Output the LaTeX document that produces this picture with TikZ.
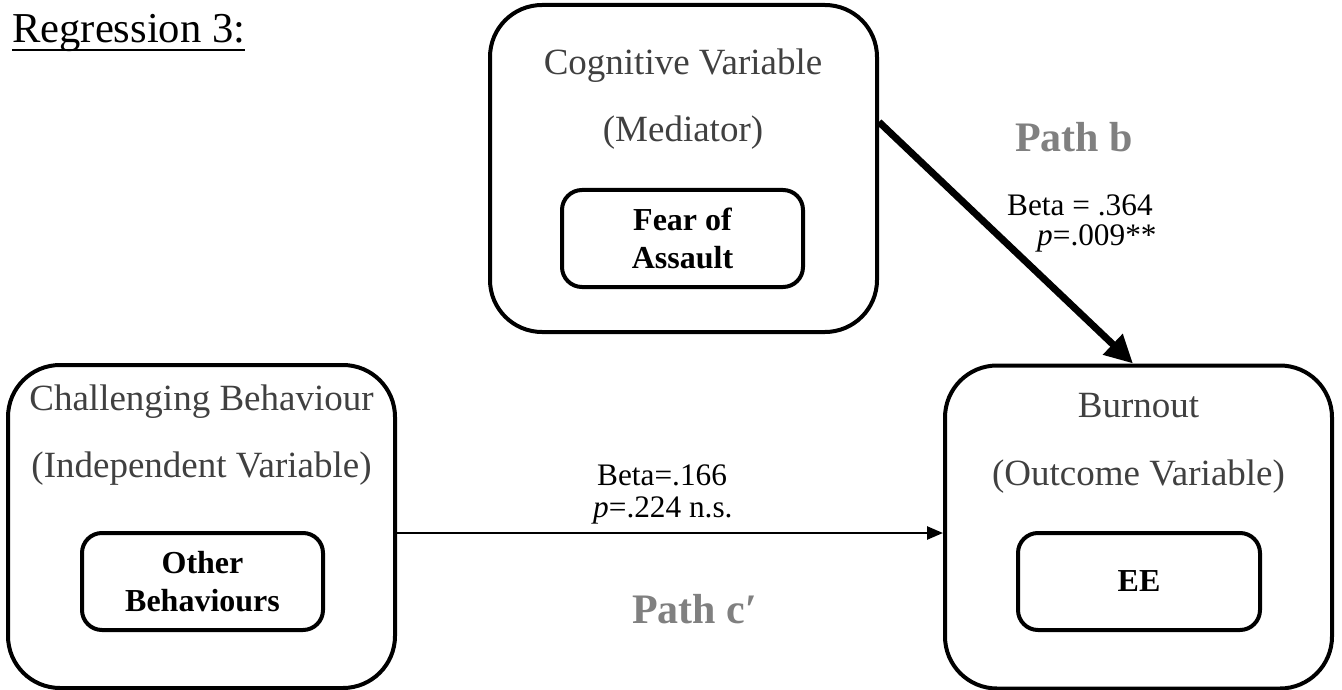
\documentclass[tikz,border=0pt]{standalone}
\usepackage{fontspec}
\setmainfont{Liberation Serif}
\usetikzlibrary{arrows.meta}
\definecolor{titlegray}{HTML}{404040}
\definecolor{pathgray}{HTML}{808080}
\begin{document}
\begin{tikzpicture}[x=1pt,y=-1pt,
  outerbox/.style={draw, line width=4pt, rounded corners=52pt, minimum width=387pt, minimum height=323pt, inner sep=0pt},
  innerbox/.style={draw, line width=4pt, rounded corners=20pt, minimum width=241pt, minimum height=97pt, inner sep=0pt, align=center, font=\fontsize{32pt}{38pt}\selectfont\bfseries},
  vartitle/.style={anchor=base, inner sep=0pt, text=titlegray, font=\fontsize{37pt}{44pt}\selectfont},
  stat/.style={anchor=base west, inner sep=0pt, font=\fontsize{31.3pt}{36pt}\selectfont},
  pathlbl/.style={anchor=base west, inner sep=0pt, text=pathgray, font=\fontsize{42pt}{48pt}\selectfont\bfseries}]
\useasboundingbox (0,0) rectangle (1342,690);

% heading
\node[anchor=base west, inner sep=0pt, font=\fontsize{42.6pt}{50pt}\selectfont] (reg) at (12,43) {Regression 3:};
\draw[line width=2.5pt] ([yshift=-7pt]reg.base west) -- ([yshift=-7pt]reg.base east);

% outer boxes
\node[outerbox, minimum height=327pt] (med) at (683.5,168.5) {};
\node[outerbox] (ind) at (201.5,526.5) {};
\node[outerbox] (outc) at (1138.5,527) {};

% titles
\node[vartitle] (medt1) at (683,75) {Cognitive Variable};
\node[vartitle] (medt2) at (683,142) {(Mediator)};
\node[vartitle] (indt1) at (201.5,410) {Challenging Behaviour};
\node[vartitle] (indt2) at (201.5,477) {(Independent Variable)};
\node[vartitle] (outt1) at (1138.5,417) {Burnout};
\node[vartitle] (outt2) at (1138.5,485) {(Outcome Variable)};

% inner boxes
\node[innerbox] (fear) at (682.5,238.5) {Fear of\\Assault};
\node[innerbox] (other) at (202.5,581.5) {Other\\Behaviours};
\node[innerbox, minimum width=242pt] (ee) at (1139,581.5) {\raisebox{-4.5pt}{EE}};

% connectors
\draw[line width=7pt, -{Triangle[length=28pt,width=27pt]}] ([yshift=46.5pt]med.east) -- ([xshift=-5.5pt]outc.north);
\draw[line width=2.5pt, -{Triangle[length=16pt,width=13pt]}] ([yshift=-6.5pt]ind.east) -- ([yshift=-6pt]outc.west);

% path b labels
\node[pathlbl] (pathb) at (1015,152) {Path b};
\node[stat] (betab) at (1007,215) {Beta = .364};
\node[stat] (pb) at (1037,245) {\textit{p}=.009**};

% path c' labels
\node[stat] (betac) at (597,485) {Beta=.166};
\node[stat] (pc) at (593,517) {\textit{p}=.224 n.s.};
\node[pathlbl] (pathc) at (632,623) {Path c′};
\end{tikzpicture}
\end{document}
